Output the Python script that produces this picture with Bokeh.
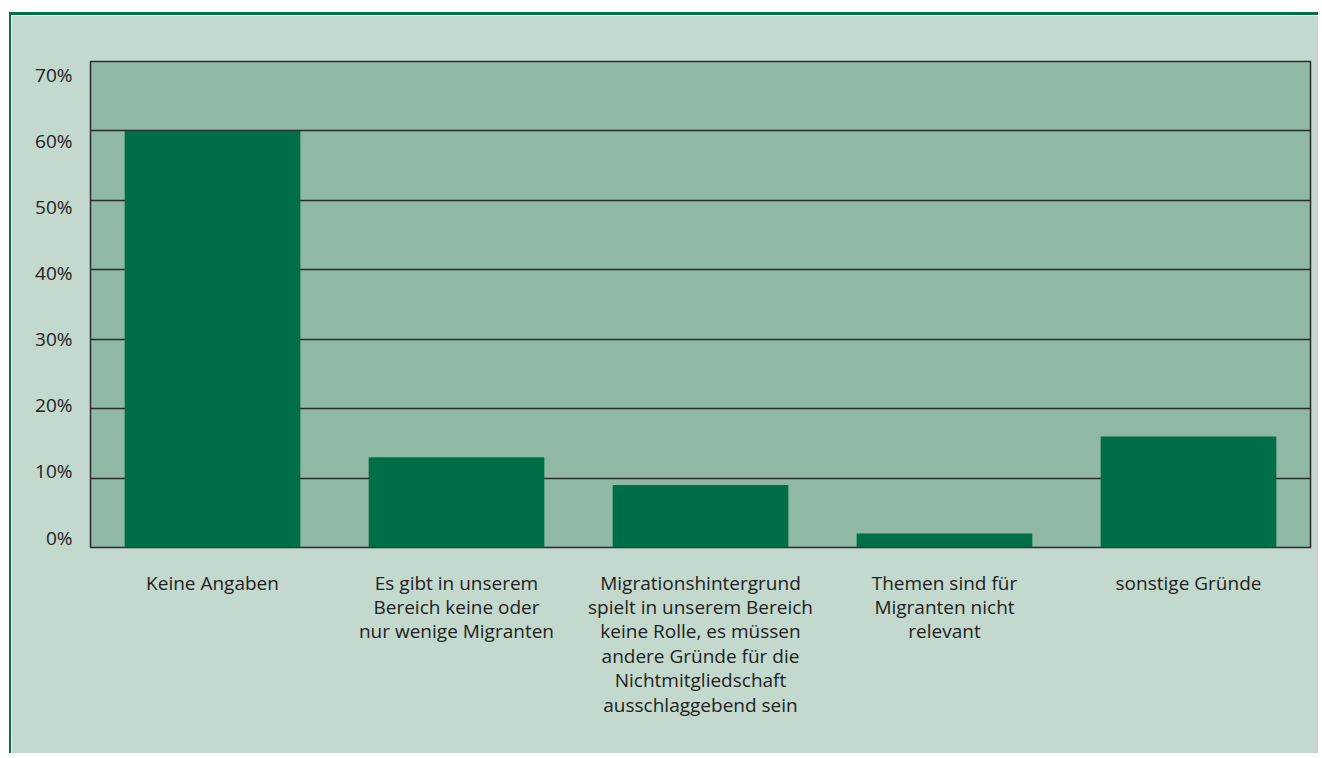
from bokeh.plotting import figure
from bokeh.models import Range1d, LinearAxis, FixedTicker, FactorRange
from bokeh.embed import file_html
from bokeh.resources import INLINE

categories = [
    "Keine Angaben",
    "Es gibt in unserem\nBereich keine oder\nnur wenige Migranten",
    "Migrationshintergrund\nspielt in unserem Bereich\nkeine Rolle, es müssen\nandere Gründe für die\nNichtmitgliedschaft\nausschlaggebend sein",
    "Themen sind für\nMigranten nicht\nrelevant",
    "sonstige Gründe",
]
values = [60, 13, 9, 2, 16]
y_ticks = [0, 10, 20, 30, 40, 50, 60, 70]
y_tick_labels = ["0%", "10%", "20%", "30%", "40%", "50%", "60%", "70%"]

FONT = "Open Sans"
OUTER = "#c3d9cd"
INNER = "#8fb9a4"
BAR = "#006e47"
LINE = "#2b2b2b"

p = figure(
    width=1309, height=741,
    x_range=FactorRange(*categories), y_range=Range1d(0, 70),
    output_backend="svg", toolbar_location=None,
    y_axis_location=None,
    min_border_left=79, min_border_top=46, min_border_right=10, min_border_bottom=209,
    background_fill_color=INNER, border_fill_color=OUTER,
    outline_line_color=LINE, outline_line_width=1.5,
)
p.styles = {"margin-top": "12px", "margin-left": "9px",
            "border-top": "3px solid #006f4a", "border-left": "2px solid #006f4a"}

p.xgrid.visible = False
p.ygrid.ticker = FixedTicker(ticks=y_ticks[1:-1])
p.ygrid.grid_line_color = LINE
p.ygrid.grid_line_width = 1.5

p.vbar(x=categories, top=values, width=0.72, color=BAR, line_color=None)

p.extra_y_ranges = {"lab": Range1d(-1.51, 71.97)}
yax = LinearAxis(
    y_range_name="lab", ticker=FixedTicker(ticks=y_ticks),
    major_label_overrides={t: l for t, l in zip(y_ticks, y_tick_labels)},
    axis_line_color=None, major_tick_line_color=None, minor_tick_line_color=None,
    major_tick_out=0, major_tick_in=0, minor_tick_out=0, minor_tick_in=0,
    major_label_standoff=18,
    major_label_text_font=FONT, major_label_text_font_size="19px",
    major_label_text_color="#222222",
)
p.add_layout(yax, "left")

xa = p.xaxis[0]
xa.axis_line_color = None
xa.major_tick_line_color = None
xa.major_tick_out = 0
xa.major_tick_in = 0
xa.major_label_standoff = 22
xa.major_label_text_font = FONT
xa.major_label_text_font_size = "19px"
xa.major_label_text_color = "#222222"
xa.major_label_text_line_height = 0.94
xa.major_label_orientation = "horizontal"

open("out.html", "w").write(file_html(p, INLINE))
